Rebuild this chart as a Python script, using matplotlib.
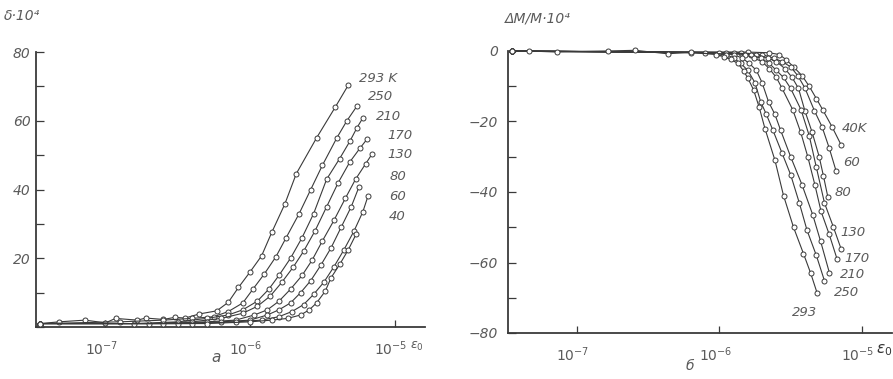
import numpy as np
import matplotlib
matplotlib.use('Agg')
import matplotlib.pyplot as plt
import matplotlib.transforms as mtransforms
from matplotlib.ticker import FixedLocator, NullLocator

# --- данные (log10 амплитуды деформации, значения) ---
# рис. а: декремент δ·10^4
temps_a = ['293 K', '250', '210', '170', '130', '80', '60', '40']
a293_x = [-7.45, -7.32, -7.14, -7.00, -6.93, -6.78, -6.72, -6.60, -6.52, -6.45, -6.35, -6.23, -6.15, -6.08, -6.00, -5.92, -5.85, -5.76, -5.68, -5.54, -5.41, -5.32]
a293_y = [1.0, 1.5, 2.0, 1.2, 2.5, 2.0, 2.6, 2.2, 2.8, 2.6, 3.8, 4.7, 7.2, 11.5, 16.0, 20.7, 27.5, 35.7, 44.6, 55.0, 64.0, 70.4]
a250_x = [-7.45, -6.90, -6.60, -6.40, -6.25, -6.15, -6.05, -5.98, -5.90, -5.82, -5.75, -5.66, -5.58, -5.50, -5.40, -5.33, -5.26]
a250_y = [1.0, 1.5, 2.0, 2.5, 3.0, 4.5, 7.0, 11.0, 15.5, 20.5, 26.0, 33.0, 40.0, 47.0, 55.0, 60.0, 64.3]
a210_x = [-7.45, -6.80, -6.50, -6.30, -6.15, -6.05, -5.95, -5.87, -5.80, -5.72, -5.64, -5.56, -5.47, -5.38, -5.31, -5.26, -5.22]
a210_y = [1.0, 1.0, 1.5, 2.5, 3.5, 5.0, 7.5, 11.0, 15.0, 20.0, 26.0, 33.0, 43.0, 49.0, 54.0, 58.0, 60.8]
a170_x = [-7.45, -6.70, -6.40, -6.20, -6.05, -5.95, -5.86, -5.78, -5.70, -5.63, -5.55, -5.47, -5.39, -5.31, -5.24, -5.19]
a170_y = [1.0, 1.0, 1.5, 2.5, 4.0, 6.0, 9.0, 13.0, 17.5, 22.0, 28.0, 35.0, 42.0, 48.0, 52.0, 54.7]
a130_x = [-7.45, -6.60, -6.30, -6.10, -5.97, -5.88, -5.80, -5.72, -5.64, -5.57, -5.50, -5.42, -5.34, -5.27, -5.20, -5.155]
a130_y = [1.0, 1.0, 1.5, 2.0, 3.5, 5.0, 7.5, 11.0, 15.0, 19.5, 25.0, 31.0, 37.5, 43.0, 47.5, 50.4]
a80_x = [-7.45, -6.50, -6.20, -6.00, -5.88, -5.80, -5.72, -5.65, -5.58, -5.51, -5.44, -5.37, -5.30, -5.246]
a80_y = [1.0, 1.0, 1.5, 2.0, 3.5, 5.0, 7.0, 10.0, 13.5, 18.0, 23.0, 29.0, 35.0, 40.8]
a60_x = [-7.45, -6.40, -6.10, -5.92, -5.80, -5.71, -5.63, -5.56, -5.49, -5.42, -5.35, -5.28, -5.22, -5.184]
a60_y = [1.0, 1.0, 1.5, 2.0, 3.0, 4.5, 6.5, 9.5, 13.0, 17.5, 22.5, 28.0, 33.5, 38.1]
a40_x = [-7.45, -6.30, -6.00, -5.85, -5.74, -5.65, -5.59, -5.54, -5.48, -5.44, -5.38, -5.32, -5.264]
a40_y = [1.0, 1.0, 1.5, 2.0, 2.5, 3.5, 5.0, 7.0, 10.4, 14.3, 18.2, 22.5, 27.2]

# рис. б: дефект модуля ΔM/M·10^4
temps_b = ['40K', '60', '80', '130', '170', '210', '250', '293']
b40_x = [-7.45, -5.80, -5.65, -5.58, -5.53, -5.48, -5.42, -5.37, -5.32, -5.275, -5.21, -5.147]
b40_y = [0, -0.3, -0.5, -1.0, -2.5, -4.5, -7.0, -10.0, -13.5, -16.7, -21.5, -26.6]
b60_x = [-7.45, -5.85, -5.70, -5.62, -5.56, -5.50, -5.45, -5.40, -5.333, -5.28, -5.23, -5.182]
b60_y = [0, -0.5, -1.0, -2.0, -3.0, -4.5, -7.0, -10.5, -17.0, -21.5, -27.5, -34.0]
b80_x = [-7.45, -5.90, -5.74, -5.66, -5.60, -5.54, -5.49, -5.445, -5.40, -5.35, -5.30, -5.27, -5.24]
b80_y = [0, -0.5, -1.0, -2.0, -3.0, -5.0, -7.5, -10.6, -17.0, -23.0, -30.0, -35.5, -41.3]
b130_x = [-7.45, -5.95, -5.78, -5.71, -5.65, -5.60, -5.55, -5.50, -5.427, -5.37, -5.32, -5.263, -5.20, -5.147]
b130_y = [0, -0.5, -1.0, -2.0, -3.5, -5.5, -7.5, -10.6, -16.7, -24.0, -33.0, -43.1, -50.0, -56.1]
b170_x = [-7.45, -6.00, -5.82, -5.76, -5.70, -5.65, -5.60, -5.56, -5.485, -5.43, -5.38, -5.33, -5.287, -5.23, -5.175]
b170_y = [0, -0.5, -1.0, -2.0, -3.0, -5.0, -7.5, -10.6, -16.7, -23.0, -30.0, -38.0, -45.5, -52.0, -59.0]
b210_x = [-7.45, -6.10, -5.90, -5.84, -5.79, -5.74, -5.70, -5.655, -5.61, -5.571, -5.50, -5.42, -5.345, -5.29, -5.228]
b210_y = [0, -0.5, -1.0, -2.0, -3.5, -5.5, -9.0, -14.4, -18.0, -22.4, -30.0, -38.0, -46.5, -54.0, -63.0]
b250_x = [-7.45, -6.20, -5.95, -5.90, -5.85, -5.80, -5.75, -5.71, -5.67, -5.625, -5.56, -5.50, -5.44, -5.385, -5.32, -5.263]
b250_y = [0, -0.5, -1.0, -2.0, -3.5, -5.5, -9.0, -14.4, -18.0, -22.4, -29.0, -35.1, -43.0, -50.9, -58.0, -65.2]
b293_x = [-7.45, -7.33, -7.14, -6.78, -6.59, -6.36, -6.20, -6.02, -5.97, -5.92, -5.87, -5.83, -5.80, -5.76, -5.72, -5.68, -5.61, -5.55, -5.48, -5.41, -5.36, -5.315]
b293_y = [0, 0, -0.3, 0, 0.2, -0.8, -0.3, -1.0, -1.6, -2.4, -3.5, -5.6, -7.7, -11.0, -16.0, -22.0, -31.0, -41.0, -50.0, -57.5, -63.0, -68.6]

curves_a = [(a293_x, a293_y), (a250_x, a250_y), (a210_x, a210_y), (a170_x, a170_y),
            (a130_x, a130_y), (a80_x, a80_y), (a60_x, a60_y), (a40_x, a40_y)]
curves_b = [(b40_x, b40_y), (b60_x, b60_y), (b80_x, b80_y), (b130_x, b130_y),
            (b170_x, b170_y), (b210_x, b210_y), (b250_x, b250_y), (b293_x, b293_y)]

# --- оформление ---
W, H = 893, 379
INK = '#3a3a3a'
TXT = '#5a5a5a'
plt.rcParams['font.family'] = ['DejaVu Sans']
plt.rcParams['mathtext.fontset'] = 'dejavusans'

fig = plt.figure(figsize=(W / 100, H / 100), dpi=100)
fig.patch.set_facecolor('white')


def fx(px):
    return px / W


def fy(py):
    return 1 - py / H


ax1 = fig.add_axes([fx(36), fy(327), (425 - 36) / W, (327 - 52) / H])
ax2 = fig.add_axes([fx(508), fy(333), (892 - 508) / W, (333 - 51) / H])

for ax in (ax1, ax2):
    ax.set_xscale('log')
    ax.set_xlim(10 ** -7.48, 10 ** -4.79)
    for s in ('top', 'right'):
        ax.spines[s].set_visible(False)
    for s in ('left', 'bottom'):
        ax.spines[s].set_color(INK)
        ax.spines[s].set_linewidth(1.3)
    ax.xaxis.set_major_locator(FixedLocator([1e-7, 1e-6, 1e-5]))
    ax.xaxis.set_minor_locator(NullLocator())
    ax.set_xticklabels([r'$10^{-7}$', r'$10^{-6}$', r'$10^{-5}$'])
    ax.tick_params(axis='x', which='major', direction='in', length=5, width=0.9,
                   colors=INK, labelcolor=TXT, labelsize=10, pad=9)
    ax.tick_params(axis='y', which='both', direction='in', length=6, width=0.9,
                   colors=INK, labelcolor=TXT, labelsize=10)
    # подписи степеней чуть левее рисок, как в оригинале
    shift = mtransforms.ScaledTranslation(-4 / 100, 0, fig.dpi_scale_trans)
    for lab in ax.get_xticklabels():
        lab.set_transform(lab.get_transform() + shift)
    for lab in ax.get_xticklabels() + ax.get_yticklabels():
        lab.set_fontstyle('italic')

# рис. а
ax1.set_ylim(0, 80)
ax1.set_yticks([0, 20, 40, 60, 80])
ax1.set_yticklabels(['', '20', '40', '60', '80'], fontstyle='italic')
ax1.set_yticks([10, 30, 50, 70], minor=True)
ax1.tick_params(axis='y', pad=4)
for xs, ys in curves_a:
    ax1.plot(10 ** np.array(xs), ys, color=INK, lw=0.8, marker='o', ms=3.6,
             mfc='white', mec=INK, mew=0.7, clip_on=False, zorder=3)

# рис. б
ax2.set_ylim(-80, 0)
ax2.set_yticks([0, -20, -40, -60, -80])
ax2.set_yticklabels(['0', '−20', '−40', '−60', '−80'], fontstyle='italic')
ax2.set_yticks([-10, -30, -50, -70], minor=True)
ax2.tick_params(axis='y', pad=7)
for xs, ys in curves_b:
    ax2.plot(10 ** np.array(xs), ys, color=INK, lw=0.8, marker='o', ms=3.6,
             mfc='white', mec=INK, mew=0.7, clip_on=False, zorder=3)

# подписи температур
pos_a = [(378, 78), (381, 97), (389, 116), (400, 136), (400, 155), (398, 177), (398, 197), (397, 216)]
for t, (px, py) in zip(temps_a, pos_a):
    fig.text(fx(px), fy(py), t, ha='center', va='center', color=TXT,
             fontsize=9.5, fontstyle='italic')
pos_b = [(855, 128), (852, 163), (843, 193), (853, 233), (857, 258), (853, 275), (847, 293), (805, 312)]
for t, (px, py) in zip(temps_b, pos_b):
    fig.text(fx(px), fy(py), t, ha='center', va='center', color=TXT,
             fontsize=9.5, fontstyle='italic')

# подписи осей
fig.text(fx(4), fy(16), 'δ·10⁴', ha='left', va='center', color=TXT, fontsize=10, fontstyle='italic')
fig.text(fx(505), fy(18), 'ΔM/M·10⁴', ha='left', va='center', color=TXT, fontsize=10, fontstyle='italic')
fig.text(fx(417), fy(346), r'$\varepsilon_0$', ha='center', va='center', color=TXT, fontsize=9)
fig.text(fx(884), fy(350), r'$\varepsilon_0$', ha='center', va='center', color='#333333', fontsize=11)
fig.text(fx(216), fy(357), 'а', ha='center', va='center', color=TXT, fontsize=11, fontstyle='italic')
fig.text(fx(690), fy(366), 'б', ha='center', va='center', color=TXT, fontsize=10, fontstyle='italic')

fig.savefig('out.png', dpi=100, facecolor='white')
